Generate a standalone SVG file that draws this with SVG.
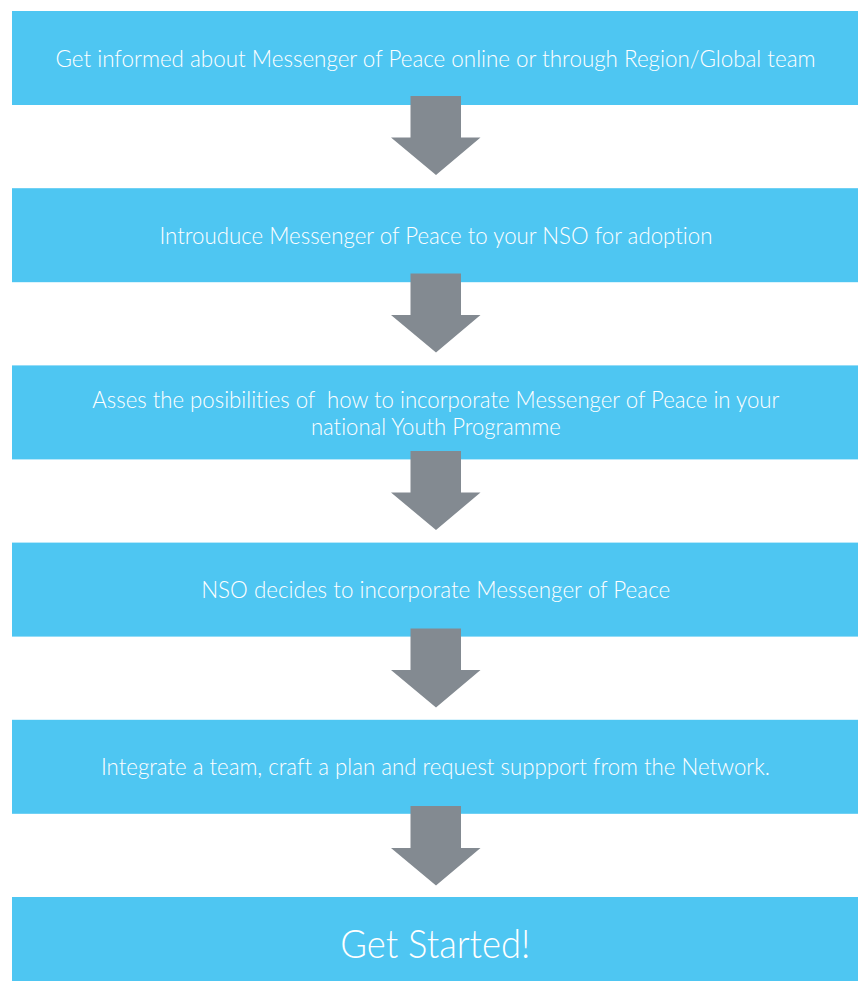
<svg xmlns="http://www.w3.org/2000/svg" width="860" height="981" viewBox="0 0 860 981">
<style>
.box{fill:#4EC6F2;}
.lbl{fill:#FFFFFF;font-family:"Lato","Liberation Sans",sans-serif;font-size:23px;font-weight:300;text-anchor:middle;font-variant-ligatures:none;}
.big{font-size:39px;}
.arrow{fill:#838A91;}
</style>
<rect x="0" y="0" width="860" height="981" fill="#FFFFFF"/>
<g id="step1">
<rect class="box" x="12" y="11" width="846" height="94"/>
<text class="lbl" x="435.5" y="66.7" textLength="760" lengthAdjust="spacingAndGlyphs">Get informed about Messenger of Peace online or through Region/Global team</text>
</g>
<g id="step2">
<rect class="box" x="12" y="188.2" width="846" height="94"/>
<text class="lbl" x="436" y="244" textLength="553" lengthAdjust="spacingAndGlyphs">Introuduce Messenger of Peace to your NSO for adoption</text>
</g>
<g id="step3">
<rect class="box" x="12" y="365.4" width="846" height="94"/>
<text class="lbl" x="435.8" y="408.3" textLength="687" lengthAdjust="spacingAndGlyphs" xml:space="preserve">Asses the posibilities of  how to incorporate Messenger of Peace in your</text>
<text class="lbl" x="435.9" y="435" textLength="250" lengthAdjust="spacingAndGlyphs">national Youth Programme</text>
</g>
<g id="step4">
<rect class="box" x="12" y="542.6" width="846" height="94"/>
<text class="lbl" x="435.7" y="598" textLength="469" lengthAdjust="spacingAndGlyphs">NSO decides to incorporate Messenger of Peace</text>
</g>
<g id="step5">
<rect class="box" x="12" y="719.8" width="846" height="94"/>
<text class="lbl" x="435.5" y="775.3" textLength="669" lengthAdjust="spacingAndGlyphs">Integrate a team, craft a plan and request suppport from the Network.</text>
</g>
<g id="step6">
<rect class="box" x="12" y="897" width="846" height="84"/>
<text class="lbl big" x="435.3" y="958.3" textLength="190" lengthAdjust="spacingAndGlyphs">Get Started!</text>
</g>
<g id="connectors">
<polygon class="arrow" points="410.5,96 461,96 461,137.5 480.5,137.5 436,175 391,137.5 410.5,137.5"/>
<polygon class="arrow" points="410.5,273.5 461,273.5 461,315 480.5,315 436,352.5 391,315 410.5,315"/>
<polygon class="arrow" points="410.5,451 461,451 461,492.5 480.5,492.5 436,530 391,492.5 410.5,492.5"/>
<polygon class="arrow" points="410.5,628.5 461,628.5 461,670 480.5,670 436,707.5 391,670 410.5,670"/>
<polygon class="arrow" points="410.5,806 461,806 461,848 480.5,848 436,885.5 391,848 410.5,848"/>
</g>
</svg>
